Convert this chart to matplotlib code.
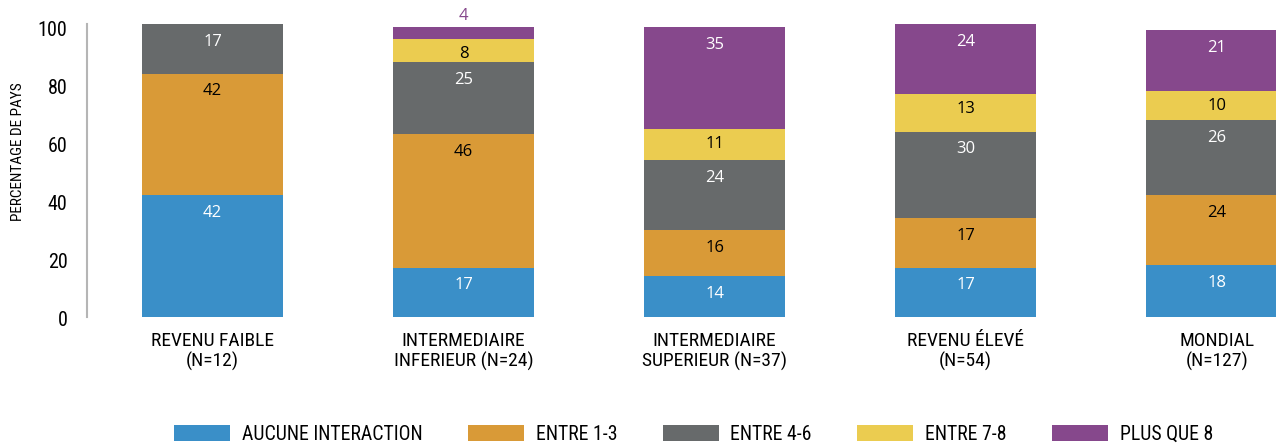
import matplotlib
matplotlib.use("Agg")
import matplotlib.pyplot as plt
from matplotlib.transforms import ScaledTranslation
import numpy as np

CATEGORIES = ["REVENU FAIBLE\n(N=12)", "INTERMEDIAIRE\nINFERIEUR (N=24)",
              "INTERMEDIAIRE\nSUPERIEUR (N=37)", "REVENU ÉLEVÉ\n(N=54)", "MONDIAL\n(N=127)"]
SERIES = ["AUCUNE INTERACTION", "ENTRE 1-3", "ENTRE 4-6", "ENTRE 7-8", "PLUS QUE 8"]
aucune = [42, 17, 14, 17, 18]
entre_1_3 = [42, 46, 16, 17, 24]
entre_4_6 = [17, 25, 24, 30, 26]
entre_7_8 = [0, 8, 11, 13, 10]
plus_que_8 = [0, 4, 35, 24, 21]
VALUES = [aucune, entre_1_3, entre_4_6, entre_7_8, plus_que_8]

COLORS = ["#3A8FC8", "#D99A37", "#676A6B", "#EBCC50", "#86488C"]
TEXT_COLORS = ["white", "black", "white", "black", "white"]

NARROW = ["Roboto Condensed", "DejaVu Sans"]
NUM = ["Open Sans", "DejaVu Sans"]

fig = plt.figure(figsize=(12.76, 4.43), dpi=100)
ax = fig.add_axes([0.0682, 0.2844, 0.932, 0.687])

x = np.arange(len(CATEGORIES))
bottom = np.zeros(len(CATEGORIES))
handles = []
for k, vals in enumerate(VALUES):
    vals = np.array(vals, dtype=float)
    bars = ax.bar(x, vals, width=0.562, bottom=bottom, color=COLORS[k], linewidth=0)
    handles.append(bars)
    for i, v in enumerate(vals):
        if v <= 0:
            continue
        top = bottom[i] + v
        if v < 6:
            # too thin, label above the bar
            ax.annotate(str(int(v)), (x[i], top), xytext=(0, 2), textcoords="offset points",
                        ha="center", va="bottom", color=COLORS[k], fontsize=12, family=NUM)
        else:
            off = -5 if v < 14 else -7
            ax.annotate(str(int(v)), (x[i], top), xytext=(0, off), textcoords="offset points",
                        ha="center", va="top", color=TEXT_COLORS[k], fontsize=12, family=NUM)
    bottom += vals

ax.set_xlim(-0.5, 4.237)
ax.set_ylim(0, 105)
ax.set_yticks([0, 20, 40, 60, 80, 100])
ax.set_xticks(x)
ax.set_xticklabels(CATEGORIES, family=NARROW, fontsize=14, linespacing=1.12)
for s in ["top", "right", "bottom"]:
    ax.spines[s].set_visible(False)
ax.spines["left"].set_color("#b5b5b5")
ax.spines["left"].set_linewidth(1.5)
ax.spines["left"].set_bounds(0, 101)
ax.tick_params(axis="y", length=0, pad=14, labelsize=14.5)
ax.tick_params(axis="x", length=0, pad=11)
for lab in ax.get_yticklabels():
    lab.set_family(NARROW)
    lab.set_transform(lab.get_transform() + ScaledTranslation(0, -0.01, fig.dpi_scale_trans))

ax.set_ylabel("PERCENTAGE DE PAYS", family=NARROW, fontsize=11)
ax.yaxis.set_label_coords(-0.052, 0.545)

fig.legend(handles, SERIES, loc="center", bbox_to_anchor=(0.5435, 0.02), ncol=5,
           frameon=False, borderpad=0, handlelength=2.84, handleheight=0.9,
           handletextpad=0.6, columnspacing=2.3,
           prop={"family": NARROW, "size": 14.2})

fig.savefig("out.png", dpi=100)
